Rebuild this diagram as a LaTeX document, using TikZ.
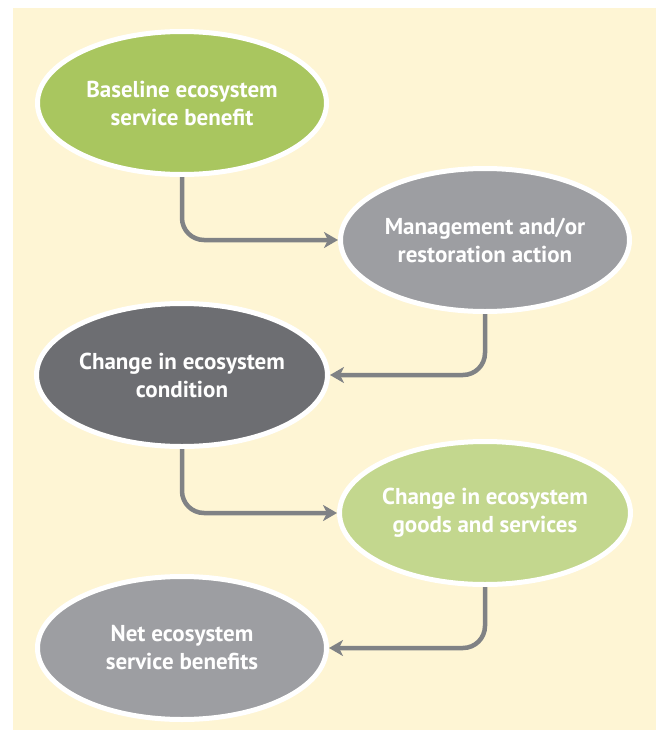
\documentclass[tikz,border=0pt]{standalone}
\usepackage{fontspec}
\setmainfont{PT Sans}
\usetikzlibrary{arrows, arrows.meta}
\usetikzlibrary{shapes.geometric}

\definecolor{cream}{HTML}{FEF5D4}
\definecolor{leafgreen}{HTML}{A9C65F}
\definecolor{palegreen}{HTML}{C3D78E}
\definecolor{midgray}{HTML}{9D9EA2}
\definecolor{darkgray}{HTML}{6D6E72}
\definecolor{flowgray}{HTML}{808285}

\tikzset{
  stage/.style={ellipse, draw=white, line width=5pt, minimum width=289pt, minimum height=143pt,
    inner sep=0pt, align=center, text=white, font=\bfseries\fontsize{23}{28}\selectfont},
  flow/.style={draw=flowgray, line width=4.5pt, rounded corners=22pt,
    -{Stealth[length=14pt, width=16pt, inset=4pt]}}
}

\begin{document}
\begin{tikzpicture}[x=1pt, y=-1pt]
    \useasboundingbox (0,0) rectangle (656,731);
    \fill[cream] (13,8) rectangle (656,730);

    \node[stage, fill=leafgreen] (1) at (182,103) {Baseline ecosystem\\service benefit};
    \node[stage, fill=midgray] (2) at (485,240) {Management and/or\\restoration action};
    \node[stage, fill=darkgray] (3) at (182,375) {Change in ecosystem\\condition};
    \node[stage, fill=palegreen] (4) at (485,513) {Change in ecosystem\\goods and services};
    \node[stage, fill=midgray] (5) at (182,648) {Net ecosystem\\service benefits};

    \draw[flow] (1.south) |- (2.west);
    \draw[flow] (2.south) |- (3.east);
    \draw[flow] (3.south) |- (4.west);
    \draw[flow] (4.south) |- (5.east);
  \end{tikzpicture}
\end{document}
